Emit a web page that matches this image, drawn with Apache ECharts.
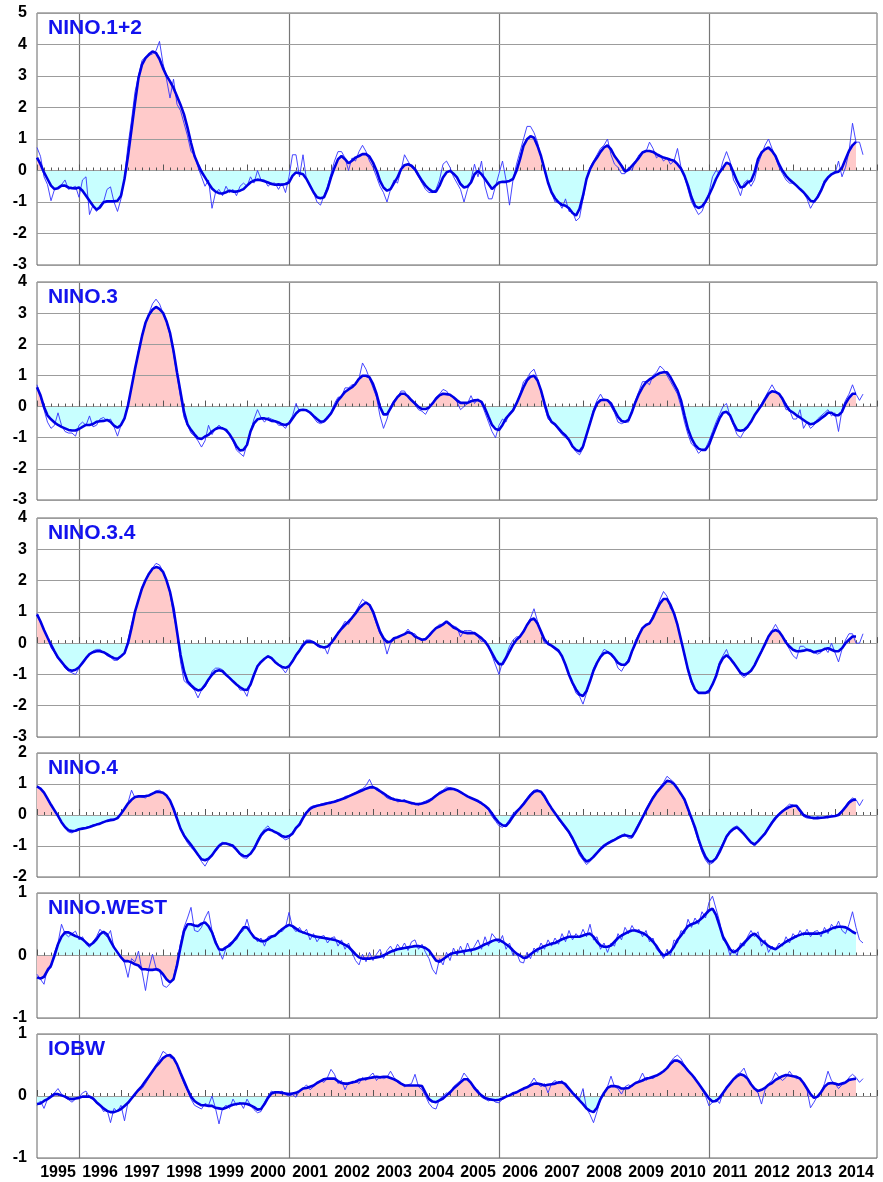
<!DOCTYPE html>
<html>
<head>
<meta charset="utf-8">
<title>NINO / IOBW SST indices</title>
<script src="https://cdn.jsdelivr.net/npm/echarts@6/dist/echarts.min.js"></script>
<style>
  html, body { margin: 0; padding: 0; background: #ffffff; }
  #chart { width: 883px; height: 1182px; }
</style>
</head>
<body>
<div id="chart"></div>
<script>
// Year labels along the bottom axis (one per calendar year, Jan 1995 .. Dec 2014)
const years = ['1995','1996','1997','1998','1999','2000','2001','2002','2003','2004',
               '2005','2006','2007','2008','2009','2010','2011','2012','2013','2014'];

// Panel names and value ranges
const panelNames = ['NINO.1+2', 'NINO.3', 'NINO.3.4', 'NINO.4', 'NINO.WEST', 'IOBW'];
const yMins = [-3, -3, -3, -2, -1, -1];
const yMaxs = [5, 4, 4, 2, 1, 1];

// Months (counted from Jan 1995) where the heavy vertical reference lines sit
const referenceMonths = [12, 72, 132, 192];

// Monthly SST deviations (degC), Jan 1995 onwards
const nino12Monthly = [
  0.73,0.45,-0.2,-0.45,-0.96,-0.6,-0.55,-0.45,-0.3,-0.6,-0.55,-0.5,
  -0.85,-0.3,-0.2,-1.4,-1.1,-1.3,-1.1,-1.0,-0.6,-0.52,-1.0,-1.3,
  -0.9,-0.2,0.8,1.6,2.5,3.0,3.5,3.6,3.65,3.7,3.8,4.1,
  3.4,2.9,2.3,2.9,2.1,1.9,1.5,1.1,0.6,0.5,0.1,-0.2,
  -0.5,-0.3,-1.2,-0.7,-0.6,-0.8,-0.5,-0.7,-0.6,-0.8,-0.5,-0.4,
  -0.5,-0.2,-0.4,0.0,-0.3,-0.3,-0.5,-0.4,-0.4,-0.6,-0.4,-0.7,
  -0.2,0.5,0.5,-0.2,0.5,-0.3,-0.5,-0.7,-1.0,-1.1,-0.8,-0.5,
  -0.1,0.3,0.6,0.6,0.4,0.0,0.4,0.3,0.6,0.8,0.6,0.3,
  0.1,-0.2,-0.5,-0.7,-1.0,-0.6,-0.3,-0.4,0.0,0.5,0.3,0.1,
  0.0,-0.2,-0.4,-0.6,-0.7,-0.7,-0.6,-0.3,0.2,0.3,0.1,-0.2,
  -0.4,-0.6,-1.0,-0.6,-0.3,0.2,-0.2,0.3,-0.5,-0.9,-0.9,-0.5,
  -0.1,0.3,-0.3,-1.1,-0.3,0.2,0.6,1.0,1.4,1.4,1.2,0.9,
  0.4,0.0,-0.4,-0.7,-1.0,-1.0,-1.2,-0.9,-1.3,-1.3,-1.6,-1.5,
  -0.9,-0.3,0.1,0.3,0.5,0.7,0.8,1.0,0.5,0.2,0.1,-0.1,
  -0.1,0.1,0.0,0.3,0.5,0.6,0.6,0.9,0.7,0.4,0.5,0.3,
  0.4,0.2,0.3,0.7,0.1,-0.2,-0.6,-1.0,-1.2,-1.4,-1.3,-1.0,
  -0.7,-0.2,0.0,-0.1,0.3,0.6,0.3,-0.3,-0.5,-0.8,-0.4,-0.3,
  -0.5,-0.3,0.2,0.5,0.8,1.0,0.7,0.4,0.1,-0.1,-0.3,-0.4,
  -0.4,-0.5,-0.6,-0.7,-0.9,-1.2,-1.0,-0.8,-0.6,-0.3,-0.2,-0.1,
  -0.1,0.3,-0.2,0.1,0.6,1.5,0.9,0.9,0.5
];
// 5-month running mean
const nino12Smooth = [
  0.41,0.2,-0.06,-0.27,-0.48,-0.59,-0.56,-0.48,-0.48,-0.54,-0.56,-0.57,
  -0.54,-0.64,-0.8,-0.96,-1.12,-1.24,-1.17,-1.01,-0.98,-0.98,-0.98,-0.96,
  -0.8,-0.27,0.46,1.3,2.15,2.94,3.36,3.57,3.69,3.78,3.73,3.54,
  3.25,3.01,2.83,2.62,2.36,2.09,1.78,1.36,0.88,0.46,0.2,-0.04,
  -0.22,-0.4,-0.57,-0.67,-0.72,-0.73,-0.69,-0.64,-0.67,-0.67,-0.64,-0.59,
  -0.48,-0.38,-0.32,-0.29,-0.31,-0.34,-0.38,-0.43,-0.45,-0.44,-0.45,-0.43,
  -0.38,-0.17,-0.06,-0.09,-0.12,-0.27,-0.48,-0.69,-0.85,-0.88,-0.85,-0.59,
  -0.22,0.09,0.36,0.46,0.36,0.23,0.31,0.41,0.46,0.52,0.52,0.44,
  0.25,0.0,-0.33,-0.54,-0.64,-0.59,-0.4,-0.22,0.04,0.17,0.2,0.15,
  0.04,-0.15,-0.33,-0.48,-0.59,-0.67,-0.67,-0.48,-0.22,-0.06,-0.01,-0.1,
  -0.22,-0.43,-0.54,-0.51,-0.38,-0.12,-0.01,-0.12,-0.27,-0.43,-0.59,-0.48,
  -0.38,-0.36,-0.36,-0.33,-0.27,-0.01,0.36,0.78,0.99,1.09,1.04,0.78,
  0.46,0.04,-0.38,-0.69,-0.88,-1.01,-1.09,-1.12,-1.2,-1.35,-1.43,-1.22,
  -0.8,-0.27,0.04,0.25,0.41,0.59,0.73,0.8,0.67,0.46,0.31,0.15,
  -0.03,0.02,0.15,0.27,0.41,0.57,0.62,0.62,0.59,0.52,0.46,0.41,
  0.38,0.34,0.31,0.2,0.06,-0.17,-0.48,-0.85,-1.12,-1.19,-1.14,-0.99,
  -0.78,-0.54,-0.27,-0.06,0.09,0.25,0.2,-0.06,-0.33,-0.54,-0.51,-0.38,
  -0.33,-0.06,0.36,0.57,0.67,0.73,0.62,0.46,0.2,-0.01,-0.17,-0.29,
  -0.38,-0.48,-0.59,-0.69,-0.82,-0.96,-0.99,-0.85,-0.64,-0.38,-0.22,-0.12,
  -0.06,-0.04,0.09,0.36,0.62,0.8,0.91
];

const nino3Monthly = [
  0.7,0.3,-0.1,-0.5,-0.7,-0.6,-0.2,-0.6,-0.8,-0.85,-0.85,-0.95,
  -0.6,-0.5,-0.6,-0.3,-0.65,-0.6,-0.4,-0.35,-0.45,-0.4,-0.65,-0.95,
  -0.6,-0.4,0.1,0.6,1.2,1.8,2.3,2.7,3.0,3.3,3.45,3.3,
  3.0,2.7,2.3,1.7,1.0,0.3,-0.35,-0.6,-0.85,-0.95,-1.1,-1.3,
  -1.1,-0.6,-0.9,-0.7,-0.6,-0.7,-0.8,-0.9,-1.1,-1.4,-1.5,-1.6,
  -1.2,-0.8,-0.4,-0.1,-0.35,-0.5,-0.35,-0.4,-0.45,-0.6,-0.6,-0.7,
  -0.5,-0.3,0.1,-0.15,-0.1,-0.1,-0.2,-0.35,-0.5,-0.55,-0.5,-0.3,
  -0.2,0.1,0.3,0.3,0.6,0.6,0.7,0.7,0.9,1.4,1.2,0.9,
  0.6,0.3,-0.3,-0.7,-0.4,0.0,0.2,0.3,0.5,0.5,0.3,0.2,
  0.05,-0.1,-0.15,-0.25,-0.05,0.1,0.3,0.4,0.55,0.5,0.35,0.3,
  0.15,-0.1,0.0,0.1,0.35,0.1,0.25,0.1,-0.2,-0.5,-0.8,-1.0,
  -0.6,-0.4,-0.5,-0.2,-0.1,0.1,0.4,0.8,0.9,1.1,1.2,0.9,
  0.5,0.0,-0.4,-0.5,-0.6,-0.75,-0.9,-1.0,-1.1,-1.3,-1.45,-1.55,
  -1.35,-0.9,-0.5,-0.1,0.2,0.4,0.2,0.2,0.0,-0.2,-0.5,-0.55,
  -0.5,-0.5,-0.1,0.2,0.5,0.8,0.8,0.7,1.0,1.1,1.3,1.2,
  1.0,0.8,0.6,0.4,0.0,-0.5,-0.9,-1.2,-1.3,-1.5,-1.4,-1.35,
  -1.1,-0.8,-0.5,-0.25,0.0,0.1,-0.3,-0.6,-0.9,-1.0,-0.8,-0.7,
  -0.5,-0.3,-0.1,0.1,0.3,0.5,0.7,0.5,0.4,0.2,-0.1,-0.1,
  -0.4,-0.4,-0.1,-0.7,-0.5,-0.7,-0.6,-0.4,-0.3,-0.2,-0.1,-0.3,
  -0.2,-0.8,-0.1,0.2,0.4,0.7,0.4,0.2,0.4
];
const nino3Smooth = [
  0.62,0.36,-0.01,-0.28,-0.41,-0.51,-0.59,-0.65,-0.7,-0.75,-0.77,-0.77,
  -0.72,-0.65,-0.59,-0.59,-0.56,-0.49,-0.47,-0.46,-0.43,-0.49,-0.61,-0.68,
  -0.59,-0.38,0.04,0.62,1.21,1.74,2.26,2.69,2.95,3.11,3.2,3.13,
  3.01,2.74,2.37,1.79,1.1,0.47,-0.17,-0.57,-0.75,-0.89,-1.02,-1.04,
  -0.96,-0.91,-0.8,-0.72,-0.68,-0.7,-0.75,-0.89,-1.07,-1.28,-1.41,-1.39,
  -1.23,-0.8,-0.54,-0.41,-0.38,-0.38,-0.41,-0.46,-0.47,-0.51,-0.57,-0.59,
  -0.54,-0.38,-0.22,-0.12,-0.1,-0.12,-0.19,-0.3,-0.4,-0.49,-0.47,-0.36,
  -0.22,-0.01,0.2,0.33,0.47,0.55,0.62,0.73,0.89,0.99,0.99,0.94,
  0.73,0.41,-0.01,-0.25,-0.25,-0.06,0.15,0.31,0.41,0.41,0.33,0.2,
  0.1,-0.01,-0.08,-0.08,-0.03,0.1,0.25,0.36,0.41,0.4,0.38,0.3,
  0.2,0.12,0.12,0.12,0.17,0.2,0.21,0.15,-0.06,-0.33,-0.59,-0.72,
  -0.75,-0.59,-0.38,-0.25,-0.12,0.1,0.36,0.62,0.84,0.96,0.99,0.84,
  0.52,0.1,-0.28,-0.49,-0.57,-0.7,-0.83,-0.93,-1.07,-1.28,-1.39,-1.44,
  -1.28,-0.91,-0.54,-0.17,0.1,0.2,0.22,0.2,0.1,-0.12,-0.33,-0.46,
  -0.49,-0.43,-0.17,0.15,0.41,0.62,0.78,0.87,0.94,1.02,1.08,1.1,
  1.1,0.94,0.73,0.52,0.2,-0.28,-0.72,-1.02,-1.23,-1.35,-1.39,-1.39,
  -1.23,-0.93,-0.65,-0.38,-0.2,-0.17,-0.28,-0.54,-0.75,-0.78,-0.75,-0.65,
  -0.49,-0.28,-0.12,0.04,0.23,0.41,0.49,0.47,0.41,0.25,0.04,-0.12,
  -0.19,-0.28,-0.35,-0.43,-0.51,-0.57,-0.54,-0.47,-0.38,-0.3,-0.2,-0.2,
  -0.28,-0.28,-0.17,0.1,0.28,0.41,0.41
];

const nino34Monthly = [
  0.95,0.7,0.4,0.2,-0.15,-0.3,-0.5,-0.6,-0.8,-0.9,-0.95,-1.0,
  -0.8,-0.6,-0.45,-0.35,-0.25,-0.2,-0.2,-0.3,-0.4,-0.45,-0.55,-0.55,
  -0.45,-0.3,0.1,0.6,1.0,1.4,1.8,2.0,2.2,2.4,2.55,2.5,
  2.3,2.0,1.6,0.9,0.4,-0.6,-1.2,-1.3,-1.4,-1.5,-1.75,-1.5,
  -1.4,-1.2,-0.9,-0.8,-0.8,-0.85,-1.0,-1.1,-1.2,-1.3,-1.5,-1.5,
  -1.7,-1.3,-1.0,-0.7,-0.6,-0.5,-0.4,-0.45,-0.6,-0.7,-0.8,-0.95,
  -0.75,-0.55,-0.35,-0.2,0.0,0.1,0.1,0.05,-0.1,-0.15,-0.1,-0.35,
  0.0,0.1,0.3,0.5,0.7,0.6,0.8,1.0,1.2,1.4,1.3,1.2,
  0.95,0.6,0.3,0.1,-0.35,0.0,0.1,0.2,0.25,0.3,0.45,0.3,
  0.3,0.15,0.1,0.1,0.2,0.35,0.5,0.6,0.6,0.65,0.6,0.55,
  0.5,0.2,0.4,0.4,0.4,0.3,0.2,0.05,0.1,-0.1,-0.4,-0.7,
  -1.0,-0.6,-0.4,-0.1,0.1,0.2,0.2,0.4,0.6,0.8,1.1,0.7,
  0.3,0.0,0.0,-0.1,-0.2,-0.3,-0.4,-0.7,-1.0,-1.3,-1.6,-1.7,
  -1.95,-1.6,-1.2,-0.8,-0.6,-0.4,-0.2,-0.25,-0.4,-0.5,-0.8,-0.9,
  -0.7,-0.5,-0.3,0.1,0.3,0.5,0.6,0.6,0.9,1.1,1.4,1.65,
  1.5,1.1,1.0,0.6,0.1,-0.4,-0.9,-1.3,-1.5,-1.6,-1.6,-1.6,
  -1.6,-1.3,-1.0,-0.6,-0.4,-0.2,-0.5,-0.6,-0.8,-1.0,-1.1,-1.0,
  -0.9,-0.7,-0.5,-0.3,0.0,0.2,0.4,0.6,0.4,0.2,0.0,-0.2,
  -0.4,-0.5,-0.1,-0.1,-0.2,-0.2,-0.3,-0.35,-0.3,-0.15,-0.3,0.0,
  -0.3,-0.6,-0.2,0.1,0.3,0.3,0.0,0.0,0.3
];
const nino34Smooth = [
  0.92,0.69,0.42,0.18,-0.05,-0.26,-0.46,-0.6,-0.74,-0.85,-0.88,-0.85,
  -0.77,-0.63,-0.48,-0.35,-0.29,-0.26,-0.26,-0.29,-0.35,-0.42,-0.48,-0.5,
  -0.42,-0.32,0.0,0.48,1.01,1.38,1.75,2.01,2.22,2.38,2.43,2.4,
  2.28,2.01,1.64,1.11,0.37,-0.37,-0.9,-1.22,-1.34,-1.45,-1.51,-1.48,
  -1.34,-1.16,-1.01,-0.9,-0.87,-0.9,-1.01,-1.11,-1.22,-1.32,-1.41,-1.48,
  -1.5,-1.32,-1.01,-0.74,-0.6,-0.5,-0.42,-0.48,-0.6,-0.69,-0.76,-0.79,
  -0.74,-0.58,-0.39,-0.24,-0.07,0.05,0.05,0.03,-0.05,-0.11,-0.14,-0.11,
  0.0,0.16,0.32,0.46,0.58,0.69,0.81,0.95,1.11,1.22,1.3,1.22,
  1.01,0.69,0.37,0.16,0.03,0.05,0.16,0.19,0.24,0.29,0.35,0.32,
  0.21,0.16,0.11,0.13,0.24,0.37,0.48,0.53,0.6,0.69,0.6,0.5,
  0.45,0.37,0.34,0.32,0.32,0.32,0.24,0.16,0.05,-0.11,-0.32,-0.53,
  -0.67,-0.67,-0.48,-0.26,-0.05,0.11,0.21,0.37,0.58,0.74,0.79,0.63,
  0.37,0.11,-0.02,-0.08,-0.16,-0.24,-0.42,-0.69,-1.01,-1.27,-1.48,-1.64,
  -1.69,-1.53,-1.22,-0.88,-0.63,-0.44,-0.32,-0.29,-0.35,-0.48,-0.63,-0.69,
  -0.69,-0.58,-0.26,0.0,0.26,0.48,0.58,0.63,0.81,1.06,1.27,1.41,
  1.41,1.22,0.95,0.58,0.11,-0.37,-0.85,-1.22,-1.48,-1.59,-1.59,-1.59,
  -1.53,-1.32,-1.06,-0.69,-0.48,-0.39,-0.48,-0.63,-0.79,-0.95,-1.01,-0.97,
  -0.88,-0.71,-0.48,-0.26,-0.03,0.21,0.37,0.42,0.37,0.21,0.02,-0.11,
  -0.21,-0.26,-0.26,-0.24,-0.21,-0.24,-0.29,-0.26,-0.24,-0.19,-0.16,-0.21,
  -0.26,-0.26,-0.16,0.0,0.11,0.21,0.21
];

const nino4Monthly = [
  0.95,0.85,0.75,0.5,0.3,0.12,-0.05,-0.25,-0.42,-0.55,-0.58,-0.5,
  -0.45,-0.42,-0.4,-0.38,-0.32,-0.3,-0.25,-0.22,-0.18,-0.12,-0.15,-0.08,
  0.05,0.22,0.4,0.8,0.55,0.62,0.58,0.55,0.65,0.7,0.78,0.8,
  0.72,0.6,0.45,0.15,-0.15,-0.45,-0.7,-0.9,-1.05,-1.15,-1.3,-1.5,
  -1.65,-1.45,-1.3,-1.1,-0.95,-0.88,-0.9,-0.98,-0.95,-1.15,-1.3,-1.38,
  -1.4,-1.25,-1.05,-0.8,-0.6,-0.45,-0.35,-0.5,-0.55,-0.65,-0.72,-0.8,
  -0.75,-0.55,-0.4,-0.25,-0.05,0.1,0.25,0.3,0.28,0.35,0.38,0.4,
  0.42,0.45,0.5,0.5,0.6,0.62,0.68,0.72,0.8,0.85,0.95,1.15,
  0.9,0.8,0.75,0.65,0.55,0.5,0.55,0.42,0.45,0.5,0.4,0.35,
  0.38,0.32,0.4,0.45,0.5,0.55,0.65,0.75,0.8,0.9,0.88,0.85,
  0.78,0.72,0.65,0.6,0.55,0.48,0.42,0.35,0.28,0.15,-0.05,-0.2,
  -0.35,-0.4,-0.3,-0.15,0.05,0.15,0.25,0.4,0.55,0.7,0.8,0.82,
  0.72,0.55,0.35,0.2,0.05,-0.15,-0.3,-0.45,-0.6,-0.8,-1.05,-1.3,
  -1.45,-1.6,-1.5,-1.3,-1.2,-1.05,-0.95,-0.9,-0.82,-0.78,-0.7,-0.65,
  -0.6,-0.75,-0.75,-0.45,-0.25,-0.05,0.2,0.4,0.6,0.75,0.9,1.05,
  1.25,1.15,1.05,0.85,0.65,0.45,0.15,-0.15,-0.5,-0.85,-1.2,-1.45,
  -1.6,-1.55,-1.35,-1.1,-0.9,-0.65,-0.5,-0.4,-0.35,-0.45,-0.6,-0.8,
  -0.9,-1.0,-0.85,-0.7,-0.55,-0.4,-0.2,-0.05,0.05,0.15,0.25,0.35,
  0.32,0.25,0.1,-0.05,-0.1,-0.1,-0.12,-0.05,-0.1,-0.05,-0.1,0.0,
  -0.05,0.05,0.15,0.3,0.45,0.55,0.5,0.3,0.5
];
const nino4Smooth = [
  0.92,0.85,0.72,0.53,0.33,0.15,-0.03,-0.23,-0.39,-0.49,-0.52,-0.51,
  -0.46,-0.44,-0.42,-0.39,-0.35,-0.31,-0.28,-0.23,-0.19,-0.17,-0.15,-0.1,
  0.04,0.2,0.37,0.49,0.58,0.6,0.6,0.61,0.63,0.69,0.74,0.74,
  0.72,0.63,0.47,0.2,-0.12,-0.44,-0.66,-0.82,-0.96,-1.12,-1.28,-1.43,
  -1.46,-1.41,-1.3,-1.14,-1.0,-0.92,-0.92,-0.95,-1.0,-1.12,-1.25,-1.32,
  -1.33,-1.25,-1.09,-0.87,-0.66,-0.53,-0.46,-0.49,-0.55,-0.6,-0.68,-0.71,
  -0.68,-0.6,-0.42,-0.31,-0.1,0.08,0.2,0.26,0.3,0.32,0.35,0.38,
  0.4,0.43,0.47,0.51,0.55,0.6,0.65,0.7,0.75,0.8,0.85,0.89,
  0.9,0.85,0.77,0.7,0.62,0.55,0.5,0.48,0.46,0.45,0.42,0.39,
  0.36,0.35,0.37,0.4,0.45,0.53,0.62,0.7,0.76,0.82,0.85,0.84,
  0.8,0.74,0.67,0.6,0.55,0.5,0.45,0.38,0.3,0.2,0.05,-0.12,
  -0.25,-0.33,-0.35,-0.22,-0.05,0.1,0.22,0.35,0.5,0.64,0.75,0.78,
  0.75,0.6,0.4,0.22,0.06,-0.1,-0.25,-0.4,-0.55,-0.75,-0.98,-1.2,
  -1.38,-1.5,-1.45,-1.35,-1.22,-1.1,-1.0,-0.92,-0.86,-0.8,-0.74,-0.68,
  -0.65,-0.68,-0.7,-0.52,-0.3,-0.08,0.14,0.35,0.55,0.72,0.85,0.98,
  1.1,1.08,1.0,0.85,0.68,0.5,0.2,-0.1,-0.4,-0.78,-1.1,-1.35,
  -1.5,-1.5,-1.4,-1.2,-0.95,-0.7,-0.55,-0.45,-0.4,-0.5,-0.62,-0.75,
  -0.88,-0.95,-0.85,-0.72,-0.6,-0.42,-0.25,-0.1,0.02,0.12,0.2,0.26,
  0.3,0.3,0.15,0.0,-0.05,-0.08,-0.1,-0.1,-0.09,-0.08,-0.06,-0.05,
  -0.03,0.0,0.12,0.25,0.4,0.48,0.5
];

const ninoWestMonthly = [
  -0.3,-0.38,-0.46,-0.2,-0.2,0.05,0.2,0.5,0.35,0.3,0.35,0.39,
  0.25,0.3,0.18,0.13,0.22,0.3,0.42,0.35,0.3,0.4,0.12,0.05,
  -0.02,-0.12,-0.35,-0.05,-0.1,0.07,-0.25,-0.56,-0.2,0.02,-0.2,-0.22,
  -0.48,-0.51,-0.45,-0.35,-0.1,0.2,0.45,0.6,0.77,0.4,0.38,0.45,
  0.6,0.71,0.4,0.25,0.08,-0.06,0.12,0.2,0.22,0.25,0.35,0.4,
  0.58,0.38,0.32,0.22,0.28,0.15,0.3,0.32,0.3,0.4,0.38,0.45,
  0.69,0.45,0.38,0.45,0.35,0.42,0.25,0.35,0.22,0.3,0.32,0.2,
  0.28,0.3,0.15,0.25,0.1,0.2,0.05,-0.08,-0.15,0.02,-0.1,0.05,
  -0.08,0.02,0.1,-0.05,0.08,0.15,0.05,0.18,0.1,0.2,0.08,0.22,
  0.25,0.1,0.18,0.05,-0.05,-0.22,-0.3,-0.05,-0.15,0.05,-0.08,0.12,
  0.0,0.15,0.02,0.2,0.05,0.15,0.25,0.1,0.3,0.15,0.35,0.28,
  0.2,0.32,0.1,0.2,0.0,0.05,-0.1,-0.12,0.05,-0.05,0.12,0.05,
  0.2,0.1,0.25,0.15,0.28,0.18,0.35,0.22,0.4,0.25,0.35,0.28,
  0.42,0.3,0.5,0.25,0.3,0.1,0.2,0.05,0.2,0.15,0.35,0.25,
  0.45,0.35,0.48,0.38,0.42,0.3,0.4,0.22,0.28,0.1,0.05,-0.05,
  0.1,0.0,0.25,0.2,0.4,0.35,0.58,0.45,0.6,0.5,0.7,0.6,
  0.85,0.95,0.75,0.55,0.25,0.2,0.0,0.1,0.0,0.2,0.15,0.3,
  0.4,0.3,0.38,0.15,0.25,0.05,0.15,0.1,0.2,0.15,0.3,0.2,
  0.35,0.28,0.4,0.32,0.42,0.3,0.38,0.4,0.3,0.45,0.35,0.5,
  0.42,0.55,0.4,0.35,0.5,0.7,0.45,0.25,0.2
];
const ninoWestSmooth = [
  -0.35,-0.37,-0.34,-0.24,-0.16,0.0,0.18,0.3,0.37,0.37,0.34,0.31,
  0.29,0.26,0.21,0.16,0.2,0.26,0.34,0.38,0.34,0.23,0.13,0.05,
  -0.03,-0.09,-0.09,-0.11,-0.14,-0.16,-0.22,-0.22,-0.23,-0.23,-0.22,-0.24,
  -0.3,-0.38,-0.43,-0.38,-0.16,0.13,0.39,0.5,0.5,0.48,0.47,0.51,
  0.53,0.47,0.37,0.21,0.1,0.09,0.13,0.16,0.22,0.29,0.37,0.45,
  0.45,0.37,0.29,0.26,0.23,0.23,0.26,0.3,0.32,0.37,0.42,0.46,
  0.49,0.47,0.43,0.39,0.37,0.35,0.33,0.31,0.3,0.29,0.28,0.27,
  0.26,0.25,0.23,0.2,0.17,0.14,0.08,0.02,-0.03,-0.05,-0.05,-0.05,
  -0.04,-0.03,-0.02,0.0,0.03,0.06,0.08,0.1,0.11,0.12,0.13,0.14,
  0.15,0.15,0.14,0.12,0.08,0.0,-0.08,-0.1,-0.06,-0.02,0.02,0.04,
  0.05,0.06,0.07,0.08,0.09,0.1,0.12,0.15,0.18,0.2,0.23,0.25,
  0.25,0.22,0.18,0.14,0.08,0.03,0.0,-0.04,-0.03,0.02,0.06,0.1,
  0.12,0.15,0.17,0.19,0.2,0.23,0.26,0.28,0.3,0.3,0.3,0.3,
  0.32,0.34,0.35,0.3,0.22,0.16,0.14,0.14,0.16,0.22,0.28,0.32,
  0.35,0.38,0.4,0.4,0.38,0.36,0.33,0.28,0.22,0.15,0.06,0.0,
  0.02,0.06,0.14,0.25,0.32,0.4,0.47,0.5,0.52,0.55,0.6,0.66,
  0.72,0.75,0.65,0.48,0.3,0.2,0.1,0.05,0.08,0.14,0.2,0.26,
  0.32,0.35,0.3,0.24,0.2,0.15,0.12,0.1,0.14,0.18,0.22,0.25,
  0.28,0.31,0.33,0.35,0.35,0.35,0.35,0.35,0.36,0.38,0.4,0.43,
  0.45,0.46,0.46,0.45,0.42,0.38,0.35
];

const iobwMonthly = [
  -0.15,-0.08,-0.2,-0.05,0.0,0.05,0.12,0.03,-0.02,-0.06,-0.1,-0.05,
  -0.02,0.05,0.08,-0.02,-0.05,-0.12,-0.15,-0.25,-0.22,-0.43,-0.2,-0.25,
  -0.15,-0.4,-0.1,-0.05,0.05,0.08,0.12,0.2,0.3,0.4,0.5,0.6,
  0.72,0.68,0.62,0.6,0.5,0.35,0.2,0.08,-0.05,-0.15,-0.18,-0.21,
  -0.12,-0.15,0.0,-0.2,-0.45,-0.2,-0.15,-0.2,-0.05,-0.15,-0.1,-0.2,
  -0.05,-0.15,-0.22,-0.27,-0.25,-0.1,0.0,0.08,0.05,0.05,0.08,0.02,
  0.0,0.02,-0.02,0.08,0.12,0.18,0.1,0.15,0.2,0.25,0.22,0.3,
  0.43,0.35,0.2,0.25,0.1,0.22,0.2,0.25,0.2,0.3,0.25,0.32,
  0.37,0.25,0.32,0.28,0.3,0.4,0.3,0.22,0.2,0.15,0.18,0.2,
  0.35,0.15,0.1,0.0,-0.12,-0.19,-0.21,-0.05,0.0,0.05,0.02,0.15,
  0.2,0.25,0.37,0.3,0.2,0.1,0.1,-0.02,-0.05,-0.08,-0.05,-0.1,
  -0.11,-0.05,0.0,0.0,0.06,0.05,0.1,0.1,0.15,0.2,0.29,0.2,
  0.15,0.2,0.05,0.2,0.25,0.2,0.25,0.15,0.1,0.05,0.02,-0.05,
  0.12,-0.2,-0.3,-0.43,-0.25,-0.05,0.05,0.15,0.32,0.15,0.12,0.03,
  0.15,0.18,0.15,0.2,0.25,0.37,0.25,0.3,0.28,0.33,0.35,0.4,
  0.45,0.55,0.62,0.66,0.6,0.5,0.42,0.35,0.28,0.2,0.1,0.0,
  -0.16,-0.1,-0.05,-0.12,0.05,0.15,0.2,0.28,0.35,0.38,0.45,0.3,
  0.2,0.1,0.05,-0.13,0.1,0.2,0.25,0.38,0.3,0.25,0.3,0.4,
  0.32,0.28,0.3,0.2,0.1,-0.19,-0.1,0.0,0.05,0.2,0.4,0.25,
  0.2,0.12,0.18,0.2,0.3,0.35,0.3,0.22,0.28
];
const iobwSmooth = [
  -0.13,-0.12,-0.08,-0.05,-0.01,0.03,0.03,0.01,-0.01,-0.04,-0.05,-0.04,
  -0.03,-0.01,-0.01,-0.01,-0.04,-0.1,-0.15,-0.2,-0.24,-0.26,-0.26,-0.24,
  -0.21,-0.16,-0.11,-0.04,0.03,0.1,0.16,0.24,0.32,0.4,0.48,0.54,
  0.61,0.65,0.66,0.61,0.51,0.37,0.24,0.11,-0.01,-0.08,-0.12,-0.15,
  -0.15,-0.16,-0.16,-0.19,-0.2,-0.21,-0.19,-0.16,-0.14,-0.13,-0.12,-0.12,
  -0.13,-0.15,-0.18,-0.22,-0.21,-0.13,-0.03,0.04,0.06,0.06,0.05,0.04,
  0.03,0.04,0.05,0.08,0.12,0.13,0.15,0.17,0.21,0.24,0.27,0.28,
  0.28,0.28,0.24,0.21,0.2,0.2,0.22,0.23,0.26,0.27,0.28,0.29,
  0.3,0.31,0.3,0.31,0.31,0.29,0.27,0.24,0.2,0.17,0.17,0.17,
  0.17,0.17,0.16,0.05,-0.05,-0.09,-0.1,-0.07,-0.04,0.01,0.06,0.12,
  0.17,0.22,0.27,0.27,0.21,0.13,0.06,0.01,-0.03,-0.05,-0.06,-0.07,
  -0.06,-0.04,-0.01,0.01,0.04,0.06,0.09,0.12,0.14,0.17,0.2,0.2,
  0.19,0.17,0.18,0.19,0.2,0.22,0.22,0.19,0.12,0.05,-0.01,-0.07,
  -0.13,-0.2,-0.24,-0.26,-0.19,-0.05,0.05,0.13,0.16,0.16,0.15,0.12,
  0.12,0.13,0.17,0.21,0.23,0.25,0.28,0.29,0.31,0.33,0.36,0.4,
  0.45,0.52,0.57,0.57,0.54,0.48,0.41,0.35,0.28,0.2,0.12,0.04,
  -0.04,-0.09,-0.08,-0.03,0.05,0.13,0.2,0.27,0.32,0.35,0.33,0.28,
  0.19,0.12,0.08,0.1,0.13,0.18,0.21,0.26,0.29,0.32,0.34,0.33,
  0.32,0.31,0.28,0.21,0.12,0.03,-0.03,-0.01,0.06,0.15,0.2,0.21,
  0.2,0.18,0.2,0.22,0.26,0.27,0.28
];

// ---- layout and styling ----
const monthlySeries = [nino12Monthly, nino3Monthly, nino34Monthly, nino4Monthly, ninoWestMonthly, iobwMonthly];
const smoothSeries = [nino12Smooth, nino3Smooth, nino34Smooth, nino4Smooth, ninoWestSmooth, iobwSmooth];
// NINO.WEST is shaded with the colours swapped (warm pool index)
const swappedShading = [false, false, false, false, true, false];

const PLOT_LEFT = 37;
const PLOT_RIGHT = 6;
const panelTops = [13, 282, 518, 753, 893, 1034];
const panelHeights = [252, 218, 219, 124, 125, 124];
const FONT = '"Liberation Sans", Arial, Helvetica, sans-serif';
const WARM = '#ffcaca';
const COOL = '#c8ffff';
const MONTHS = 240;

const toPairs = arr => arr.map((v, i) => [i, v]);

const grids = [], xAxes = [], yAxes = [], series = [], titles = [];
const warmFill = [], swappedFill = [];

panelNames.forEach((name, p) => {
  grids.push({
    left: PLOT_LEFT, right: PLOT_RIGHT, top: panelTops[p], height: panelHeights[p],
    show: true, borderColor: '#666666', borderWidth: 1, backgroundColor: 'transparent'
  });
  xAxes.push({
    type: 'value', gridIndex: p, min: 0, max: MONTHS, interval: 12, z: 2,
    axisLine: { show: false },
    axisTick: { show: true, inside: true, length: 6, lineStyle: { color: '#555', width: 1 } },
    minorTick: { show: true, splitNumber: 6, length: 3, lineStyle: { color: '#555', width: 1 } },
    axisLabel: { show: false },
    splitLine: { show: false }
  });
  yAxes.push({
    type: 'value', gridIndex: p, min: yMins[p], max: yMaxs[p], interval: 1, z: 2,
    axisLine: { show: false }, axisTick: { show: false },
    axisLabel: { margin: 10, fontSize: 16, fontWeight: 'bold', color: '#000', fontFamily: FONT },
    splitLine: { show: true, lineStyle: { color: '#9c9c9c', width: 1 } }
  });

  const fillIndex = series.length;
  (swappedShading[p] ? swappedFill : warmFill).push(fillIndex);

  // shaded area between the running mean and zero
  series.push({
    type: 'line', xAxisIndex: p, yAxisIndex: p, z: 1, silent: true,
    data: toPairs(smoothSeries[p]), symbol: 'none', showSymbol: false,
    lineStyle: { width: 0, opacity: 0 },
    areaStyle: { opacity: 1, origin: 'auto' },
    markLine: {
      silent: true, symbol: ['none', 'none'], z: 1, animation: false,
      label: { show: false },
      lineStyle: { color: '#777777', width: 1.2, type: 'solid' },
      data: referenceMonths.map(m => ({ xAxis: m }))
    }
  });
  // monthly values
  series.push({
    type: 'line', xAxisIndex: p, yAxisIndex: p, z: 3, silent: true,
    data: toPairs(monthlySeries[p]), symbol: 'none', showSymbol: false,
    lineStyle: { width: 1, color: '#3333ff', opacity: 0.9 }
  });
  // running mean
  series.push({
    type: 'line', xAxisIndex: p, yAxisIndex: p, z: 4, silent: true,
    data: toPairs(smoothSeries[p]), symbol: 'none', showSymbol: false,
    lineStyle: { width: 2.6, color: '#0000e6' }
  });

  titles.push({
    text: name, left: PLOT_LEFT + 11, top: panelTops[p] + 5, padding: 0,
    textStyle: { fontSize: 21, fontWeight: 'bold', color: '#1212ee', fontFamily: FONT }
  });
});

// year labels centred in each year along the bottom panel
xAxes.push({
  type: 'category', gridIndex: panelNames.length - 1, data: years, boundaryGap: true,
  position: 'bottom', axisLine: { show: false }, axisTick: { show: false },
  splitLine: { show: false },
  axisLabel: { interval: 0, margin: 7, fontSize: 16, fontWeight: 'bold', color: '#000', fontFamily: FONT }
});

const option = {
  animation: false,
  backgroundColor: '#ffffff',
  textStyle: { fontFamily: FONT },
  title: titles,
  grid: grids,
  xAxis: xAxes,
  yAxis: yAxes,
  visualMap: [
    {
      type: 'piecewise', show: false, dimension: 1, seriesIndex: warmFill,
      pieces: [{ gte: -10, lte: 0, color: COOL }, { gt: 0, lte: 10, color: WARM }]
    },
    {
      type: 'piecewise', show: false, dimension: 1, seriesIndex: swappedFill,
      pieces: [{ gte: -10, lte: 0, color: WARM }, { gt: 0, lte: 10, color: COOL }]
    }
  ],
  series: series
};

const chart = echarts.init(document.getElementById('chart'));
chart.setOption(option);
</script>
</body>
</html>
